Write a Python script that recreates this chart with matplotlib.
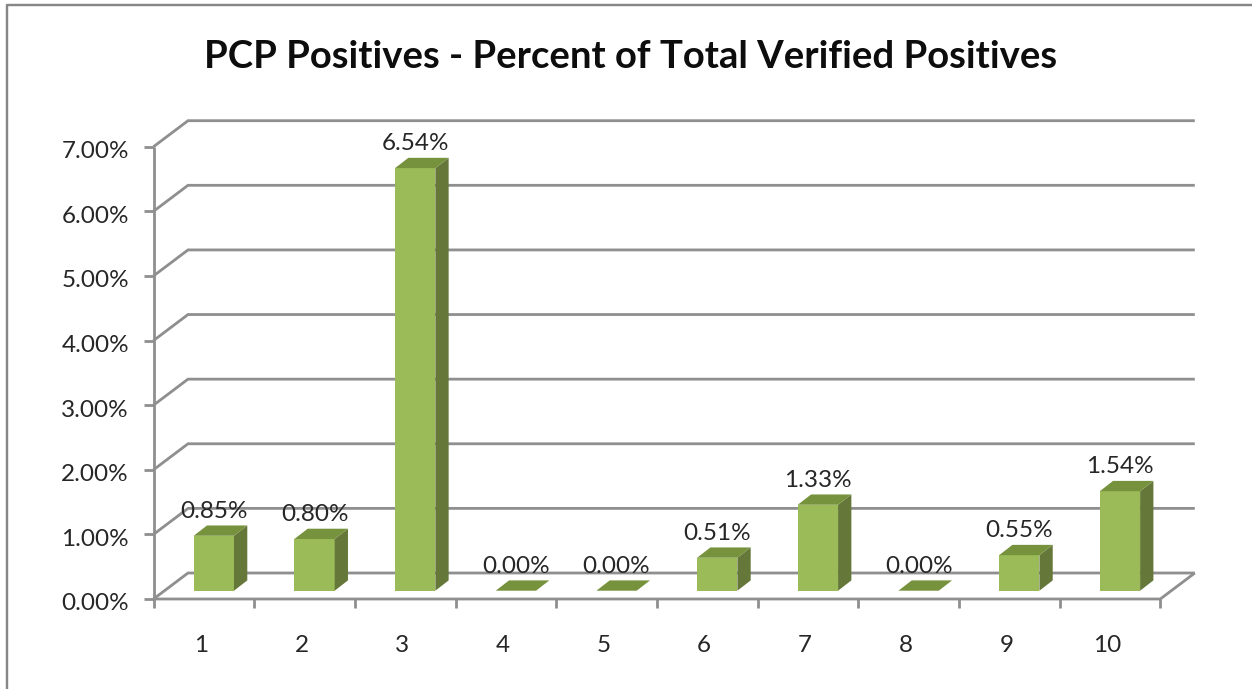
import matplotlib
matplotlib.use("Agg")
import matplotlib.pyplot as plt
from matplotlib.patches import Polygon, Rectangle

categories = [1, 2, 3, 4, 5, 6, 7, 8, 9, 10]
values = [0.85, 0.80, 6.54, 0.00, 0.00, 0.51, 1.33, 0.00, 0.55, 1.54]
value_labels = ["0.85%", "0.80%", "6.54%", "0.00%", "0.00%", "0.51%", "1.33%", "0.00%", "0.55%", "1.54%"]
y_ticks = [0, 1, 2, 3, 4, 5, 6, 7]
y_tick_labels = ["0.00%", "1.00%", "2.00%", "3.00%", "4.00%", "5.00%", "6.00%", "7.00%"]
title = "PCP Positives - Percent of Total Verified Positives"

W, H = 1252, 689
X0, X1, Y0, Y7 = 153.5, 1160.3, 599.0, 146.7
plt.rcParams["font.family"] = ["Lato", "DejaVu Sans"]

fig = plt.figure(figsize=(W / 100, H / 100), dpi=100, facecolor="white")
ax = fig.add_axes([X0 / W, 1 - Y0 / H, (X1 - X0) / W, (Y0 - Y7) / H])
ax.set_xlim(0.5, 10.5)
ax.set_ylim(0, 7)
ax.axis("off")

PX = (X1 - X0) / 10   # pixels per category
PY = (Y0 - Y7) / 7    # pixels per percent
GRID = "#8f8f8f"
TEXT = "#262626"
FRONT, SIDE, TOP = "#9BBB59", "#65783A", "#76923C"
wall_dx, wall_dy = 34.5 / PX, 26.0 / PY
bar_dx, bar_dy = 13.3 / PX, 10.3 / PY
inset_dx, inset_dy = 10.0 / PX, 8.3 / PY
half = 20.15 / PX
LABEL_SIZE = 17.5


def line(xs, ys, lw=2.8, z=1):
    ax.plot(xs, ys, color=GRID, lw=lw * 0.72, clip_on=False, zorder=z,
            solid_capstyle="butt", solid_joinstyle="miter")


# Gridlines on the wall and the matching diagonals on the side wall
for t in y_ticks:
    line([0.5, 0.5 + wall_dx, 10.5 + wall_dx], [t, t + wall_dy, t + wall_dy])
    line([0.5 - 9.5 / PX, 0.5], [t, t])
# Floor
line([0.5, 10.5, 10.5 + wall_dx], [0, 0, wall_dy])
# Vertical axis and category ticks
line([0.5, 0.5], [-8.5 / PY, 7])
for c in categories:
    line([c + 0.5, c + 0.5], [-8.5 / PY, 0])

# Bars
for c, v, lab in zip(categories, values, value_labels):
    xl = c + inset_dx - half
    xr = c + inset_dx + half
    yb = inset_dy
    yt = inset_dy + v
    if v > 0:
        ax.add_patch(Rectangle((xl, yb), xr - xl, yt - yb, fc=FRONT, ec="none", zorder=3, clip_on=False))
        ax.add_patch(Polygon([(xr, yb), (xr + bar_dx, yb + bar_dy), (xr + bar_dx, yt + bar_dy), (xr, yt)],
                             fc=SIDE, ec="none", zorder=3, clip_on=False))
    ax.add_patch(Polygon([(xl, yt), (xl + bar_dx, yt + bar_dy), (xr + bar_dx, yt + bar_dy), (xr, yt)],
                         fc=TOP, ec="none", zorder=3, clip_on=False))
    ax.text(c + inset_dx, yt + bar_dy + 14.0 / PY, lab, ha="center", va="center",
            fontsize=LABEL_SIZE, color=TEXT, zorder=4, clip_on=False)
    ax.text(c - 3 / PX, -46 / PY, str(c), ha="center", va="center",
            fontsize=LABEL_SIZE, color=TEXT, clip_on=False)

# Value axis labels
for t, lab in zip(y_ticks, y_tick_labels):
    ax.text(0.5 - 24.5 / PX, t - 5 / PY, lab, ha="right", va="center",
            fontsize=LABEL_SIZE, color=TEXT, clip_on=False)

# Title
fig.text(631 / W, 1 - 57 / H, title, ha="center", va="center",
         fontsize=27.5, fontweight="bold", color="#0d0d0d")

# Chart frame (top and left edges)
fig.add_artist(plt.Line2D([7 / W, 7 / W, 1], [0, 1 - 5 / H, 1 - 5 / H],
                          color="#868686", lw=2.4 * 0.72, transform=fig.transFigure))

fig.savefig("out.png", dpi=100)
